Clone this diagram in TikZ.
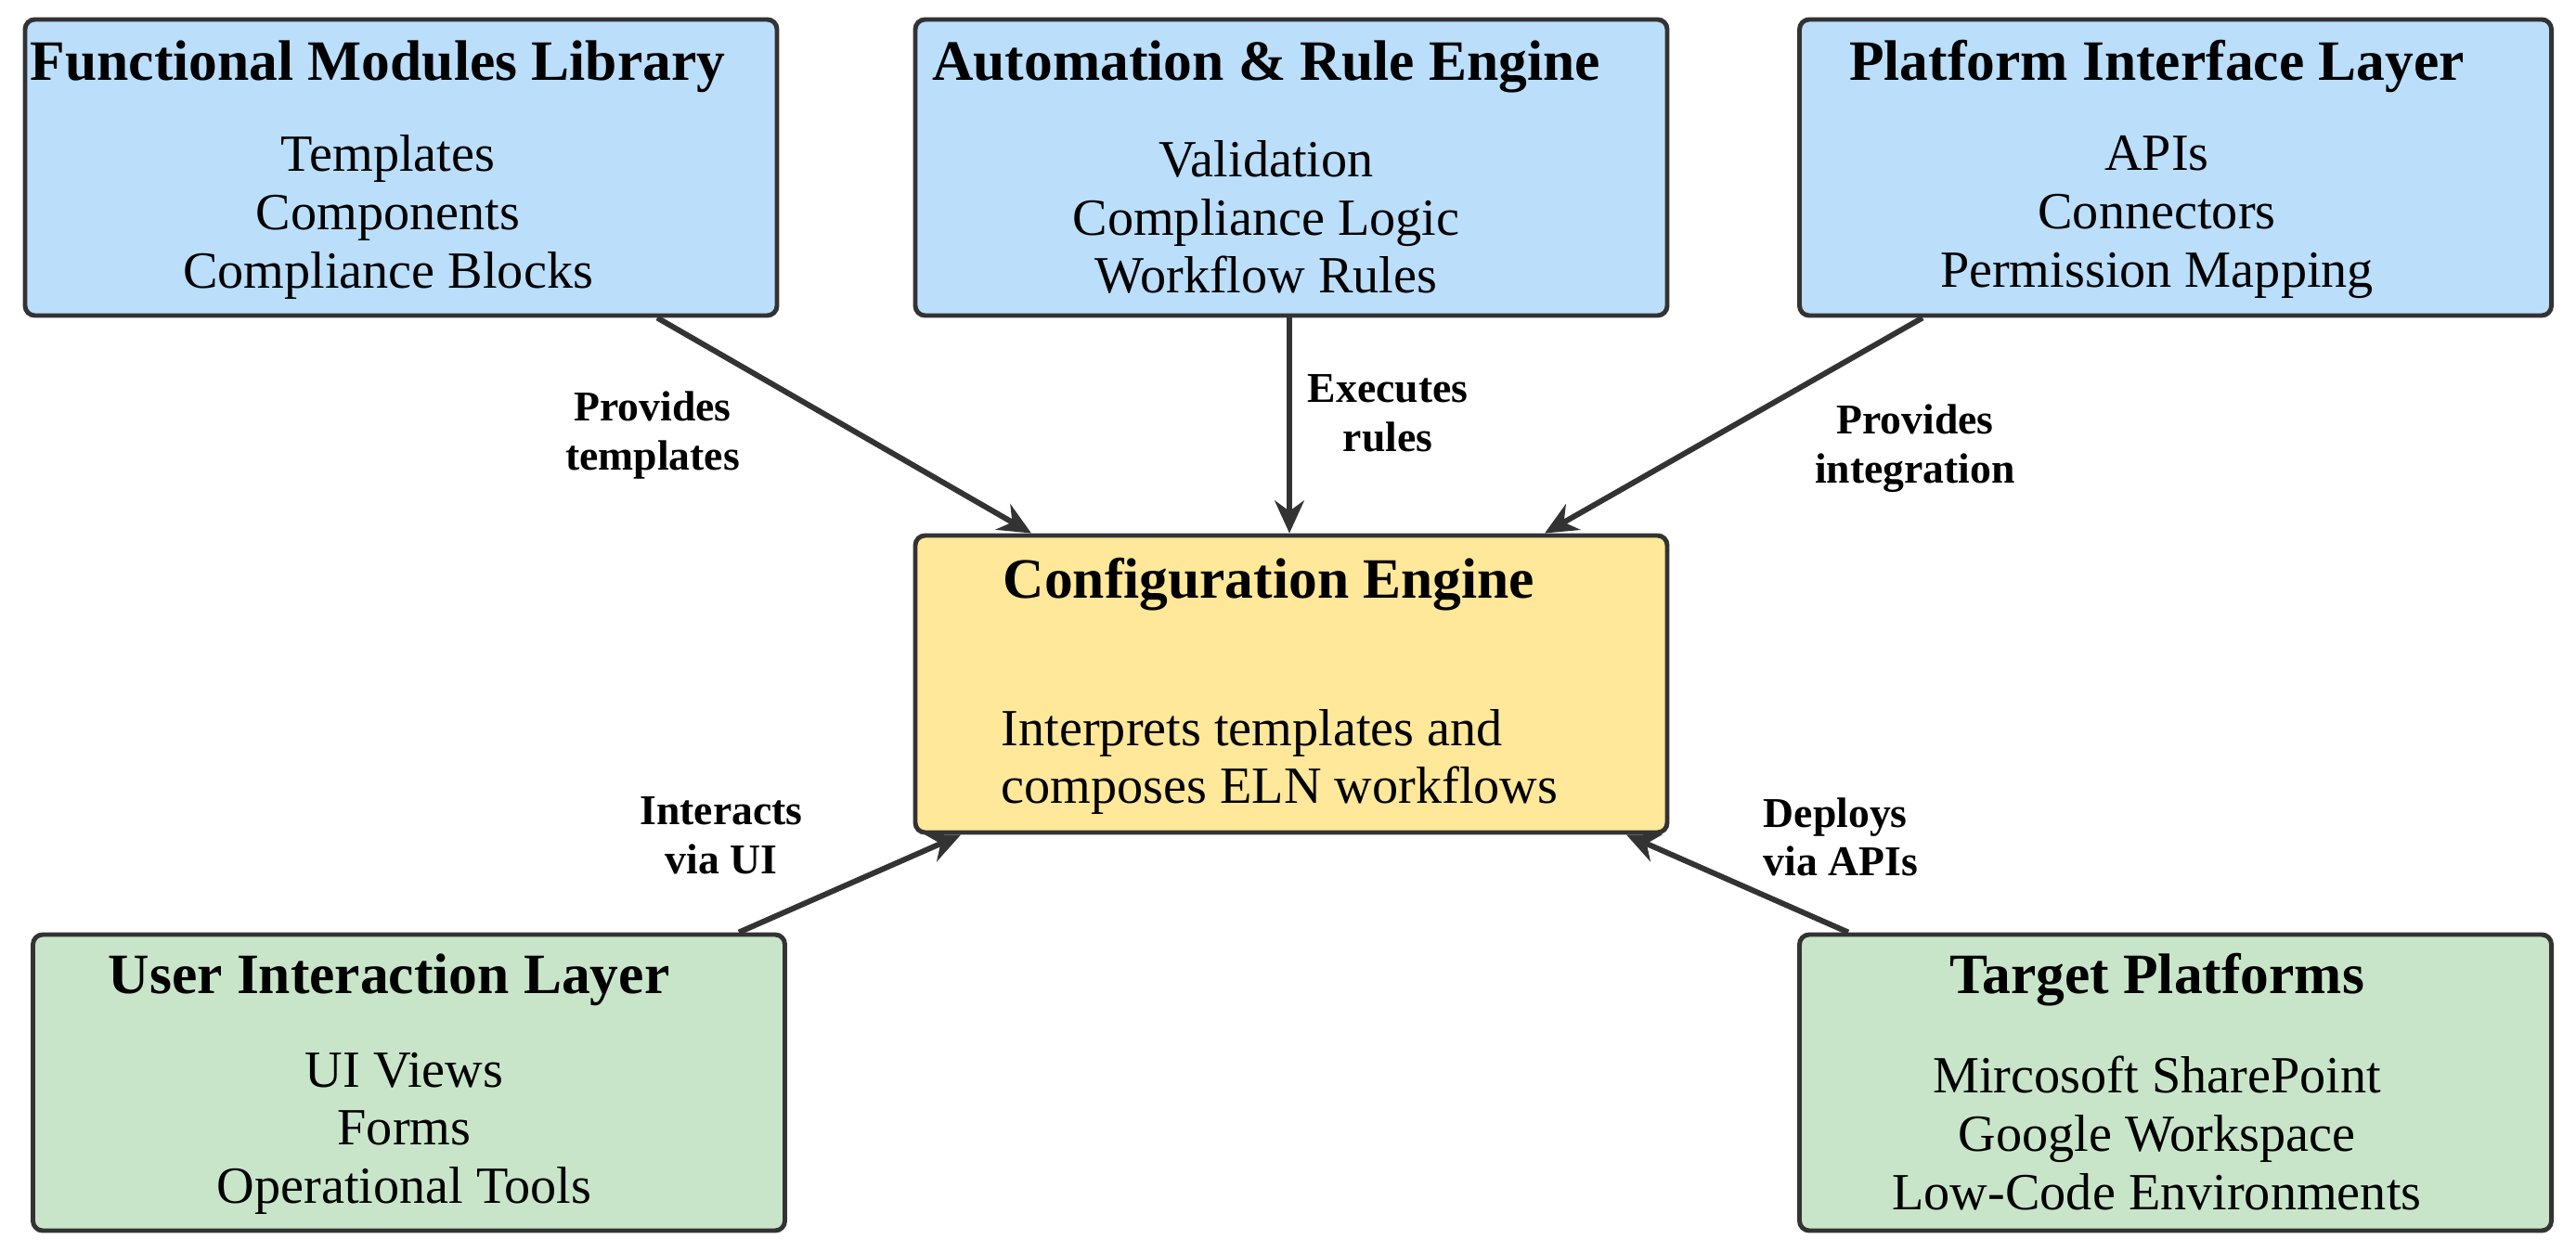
\documentclass[tikz,border=0pt]{standalone}
\usepackage{fontspec}
\setmainfont{Liberation Serif}
\usepackage{xcolor}
\definecolor{colMod}{HTML}{BBDEFA}
\definecolor{colCore}{HTML}{FFE899}
\definecolor{colEdge}{HTML}{C8E5C9}
\colorlet{colLine}{black!80}
\usetikzlibrary{arrows.meta, positioning, calc}

\begin{document}
\begin{tikzpicture}[
		blk/.style={draw=colLine, line width=1.4pt, rounded corners=3pt,
			minimum width=8.1cm, minimum height=3.19cm, inner sep=0pt},
		ttl/.style={font=\fontsize{17.5}{20}\selectfont\bfseries, inner sep=0pt},
		itm/.style={font=\fontsize{16}{17.8}\selectfont, align=center, inner sep=0pt},
		lbl/.style={font=\fontsize{13}{15}\selectfont\bfseries, align=center, inner sep=0pt},
		flow/.style={->, draw=colLine, line width=1.7pt},
		>={Stealth[length=10pt, width=9pt]}
	]
	\useasboundingbox (0,0) rectangle (27.75,-13.49);

	% ===== Top row: sources feeding the engine =====
	\node[blk, fill=colMod] (fml) at (4.32,-1.805) {};
	\node[ttl] (fmlT) at ([xshift=-0.25cm, yshift=-0.53cm]fml.north) {Functional Modules Library};
	\node[itm] (fmlB) at ([xshift=-0.14cm, yshift=-0.535cm]fml.center)
		{Templates\\Components\\Compliance Blocks};

	\node[blk, fill=colMod] (are) at (13.91,-1.805) {};
	\node[ttl] (areT) at ([xshift=-0.27cm, yshift=-0.53cm]are.north) {Automation \& Rule Engine};
	\node[itm] (areB) at ([xshift=-0.27cm, yshift=-0.535cm]are.center)
		{Validation\\Compliance Logic\\Workflow Rules};

	\node[blk, fill=colMod] (pil) at (23.435,-1.805) {};
	\node[ttl] (pilT) at ([xshift=-0.2cm, yshift=-0.53cm]pil.north) {Platform Interface Layer};
	\node[itm] (pilB) at ([xshift=-0.2cm, yshift=-0.535cm]pil.center)
		{APIs\\Connectors\\Permission Mapping};

	% ===== Centre: the engine itself =====
	\node[blk, fill=colCore, minimum height=3.2cm] (cfg) at (13.91,-7.37) {};
	\node[ttl] (cfgT) at ([xshift=-0.24cm, yshift=-0.55cm]cfg.north) {Configuration Engine};
	\node[itm, align=left, anchor=west] (cfgB) at ([yshift=-0.84cm]10.78,-7.37)
		{Interprets templates and\\composes ELN workflows};

	% ===== Bottom row =====
	\node[blk, fill=colEdge] (uil) at (4.405,-11.665) {};
	\node[ttl] (uilT) at ([xshift=-0.215cm, yshift=-0.51cm]uil.north) {User Interaction Layer};
	\node[itm] (uilB) at ([xshift=-0.05cm, yshift=-0.545cm]uil.center)
		{UI Views\\Forms\\Operational Tools};

	\node[blk, fill=colEdge] (tgt) at (23.435,-11.665) {};
	\node[ttl] (tgtT) at ([xshift=-0.2cm, yshift=-0.51cm]tgt.north) {Target Platforms};
	\node[itm] (tgtB) at ([xshift=-0.2cm, yshift=-0.545cm]tgt.center)
		{Mircosoft SharePoint\\Google Workspace\\Low-Code Environments};

	% ===== Connectors =====
	\draw[flow] ([xshift=2.76cm]fml.south) -- ([xshift=-2.8cm]cfg.north);
	\draw[flow] ([xshift=-0.02cm]are.south) -- ([xshift=-0.02cm]cfg.north);
	\draw[flow] ([xshift=-2.725cm]pil.south) -- ([xshift=2.73cm]cfg.north);
	\draw[flow] ([xshift=3.555cm]uil.north) -- ([xshift=-3.56cm]cfg.south);
	\draw[flow] ([xshift=-3.525cm]tgt.north) -- ([xshift=3.61cm]cfg.south);

	\node[lbl] (tplL) at (7.03,-4.69) {Provides\\templates};
	\node[lbl] (exeL) at (14.95,-4.45) {Executes\\rules};
	\node[lbl] (intL) at (20.63,-4.83) {Provides\\integration};
	\node[lbl] (uiL)  at (7.77,-9.0) {Interacts\\via UI};
	\node[lbl, align=left] (apiL) at (19.83,-9.02) {Deploys\\via APIs};
\end{tikzpicture}
\end{document}
